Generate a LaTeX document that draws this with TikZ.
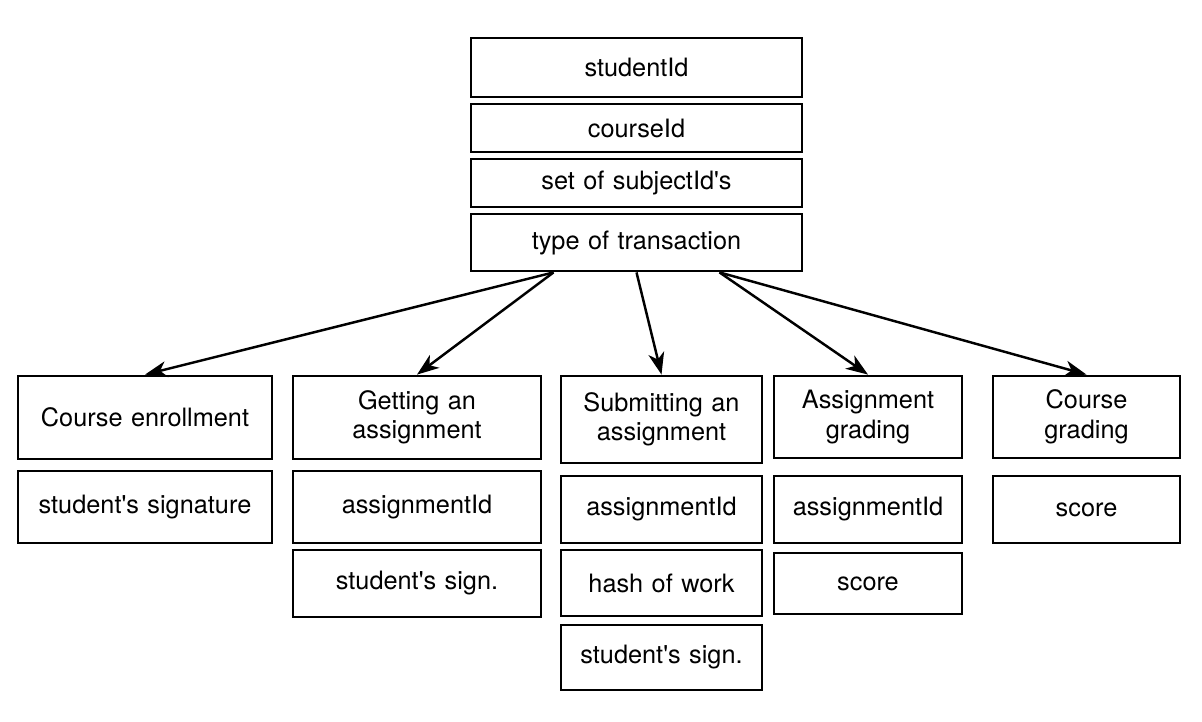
\documentclass[tikz,border=0pt]{standalone}
\usepackage{fontspec}
\setmainfont{TeX Gyre Heros}
\usetikzlibrary{arrows.meta}

\tikzstyle{b} = [rectangle, draw, line width=1.6pt, fill=none, text centered, sharp corners, inner sep=0pt, font=\fontsize{14.4}{16.8}\selectfont]
\tikzstyle{hd} = [b, text width=6.62cm]
\tikzstyle{ca} = [b, text width=5.08cm]
\tikzstyle{cb} = [b, text width=4.96cm]
\tikzstyle{cc} = [b, text width=4.02cm]
\tikzstyle{cd} = [b, text width=3.76cm]
\tikzstyle{ce} = [b, text width=3.74cm]
\tikzstyle{l} = [draw, line width=1.4pt, -{Stealth[length=0.44cm, width=0.32cm, inset=0.13cm]}]

\begin{document}
\begin{tikzpicture}[node distance = 1.2cm, auto]
    \useasboundingbox (0,0) rectangle (24.04,-14.44);
    % Place nodes
    \node [hd, minimum height=1.18cm] (sid) at (12.73,-1.35) {studentId};
    \node [hd, minimum height=0.96cm, below of=sid, node distance=1.21cm] (cid) {courseId};
    \node [hd, minimum height=0.96cm, below of=cid, node distance=1.10cm] (subj) {set of subjectId\textquotesingle s};
    \node [hd, minimum height=1.14cm, below of=subj, node distance=1.19cm] (type) {type of transaction};

    \node [cc, minimum height=1.74cm, below of=type, node distance=3.54cm, xshift=0.5cm] (subas) {Submitting an\\assignment};
    \node [cb, minimum height=1.66cm, left of=subas, node distance=4.89cm, yshift=0.04cm] (getas) {Getting an\\assignment};
    \node [ca, minimum height=1.66cm, left of=getas, node distance=5.44cm] (enrol) {Course enrollment};
    \node [cd, minimum height=1.64cm, right of=subas, node distance=4.13cm, yshift=0.05cm] (grade) {Assignment\\grading};
    \node [ce, minimum height=1.64cm, right of=grade, node distance=4.37cm] (cgrade) {Course\\grading};

%Fields of each transaction

    \node [ca, minimum height=1.44cm, below of=enrol, node distance=1.79cm] (sig) {student\textquotesingle s signature};
    \node [cb, minimum height=1.44cm, below of=getas, node distance=1.79cm] (getid) {assignmentId};
    \node [cb, minimum height=1.34cm, below of=getid, node distance=1.53cm] (getsig) {student\textquotesingle s sign.};
    \node [cc, minimum height=1.34cm, below of=subas, node distance=1.80cm] (subid) {assignmentId};
    \node [cc, minimum height=1.32cm, below of=subid, node distance=1.47cm] (hash) {hash of work};
    \node [cc, minimum height=1.30cm, below of=hash, node distance=1.49cm] (subsig) {student\textquotesingle s sign.};
    \node [cd, minimum height=1.34cm, below of=grade, node distance=1.85cm] (gradeid) {assignmentId};
    \node [cd, minimum height=1.22cm, below of=gradeid, node distance=1.48cm] (gradesc) {score};
    \node [ce, minimum height=1.34cm, below of=cgrade, node distance=1.85cm] (cgradesc) {score};

    % Draw edges
    \path [l] ([xshift=-1.66cm]type.south) -- (enrol.north);
    \path [l] ([xshift=-1.66cm]type.south) -- (getas.north);
    \path [l] (type.south) -- (subas.north);
    \path [l] ([xshift=1.66cm]type.south) -- (grade.north);
    \path [l] ([xshift=1.66cm]type.south) -- (cgrade.north);

\end{tikzpicture}
\end{document}
